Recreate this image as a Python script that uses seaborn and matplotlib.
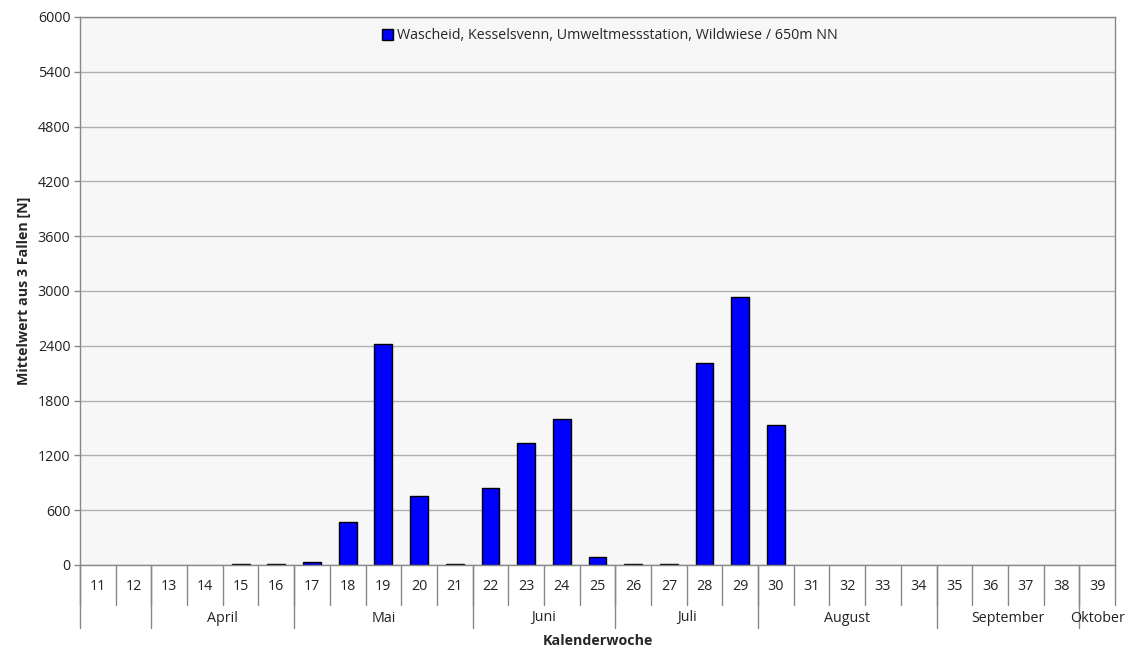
import matplotlib
matplotlib.use("Agg")
import matplotlib.pyplot as plt
import matplotlib.transforms as mtransforms
import seaborn as sns
import pandas as pd

weeks = [str(w) for w in range(11, 40)]
values = [0, 0, 0, 0, 10, 10, 35, 470, 2420, 755, 15, 843, 1336, 1598, 88,
          15, 8, 2212, 2934, 1533, 0, 0, 0, 0, 0, 0, 0, 0, 0]
months = ["", "April", "Mai", "Juni", "Juli", "August", "September", "Oktober"]
month_spans = [2, 4, 5, 4, 4, 5, 4, 1]  # number of weeks per month group
series_name = "Wascheid, Kesselsvenn, Umweltmessstation, Wildwiese / 650m NN"
yticks = list(range(0, 6001, 600))

sns.set_theme(style="white")
plt.rcParams['font.family'] = ['Open Sans', 'DejaVu Sans']
FS = 10.3

df = pd.DataFrame({"Kalenderwoche": weeks, "Wert": values})

fig = plt.figure(figsize=(11.48, 6.48), dpi=100)
ax = fig.add_axes([80/1148, 1-565/648, (1115-80)/1148, (565-17)/648])
ax.set_facecolor("#f7f7f7")

sns.barplot(data=df, x="Kalenderwoche", y="Wert", order=weeks, color="#0000ff",
            edgecolor="black", linewidth=1.0, width=0.5, saturation=1,
            label=series_name, ax=ax)
# no outline for empty bars
for p in ax.patches:
    if p.get_height() == 0:
        p.set_linewidth(0)

ax.set_ylim(0, 6000)
ax.set_xlim(-0.5, len(weeks) - 0.5)
ax.set_yticks(yticks)
ax.set_yticklabels([str(t) for t in yticks], fontsize=FS, color="#222222")
ax.yaxis.grid(True, color="#b0b0b0", linewidth=1)
ax.set_axisbelow(True)
ax.tick_params(axis="y", which="both", left=True, length=4, width=1, color="#888888", pad=3)
ax.set_xticks([])
ax.set_xlabel("")
ax.set_ylabel("Mittelwert aus 3 Fallen [N]", fontsize=FS, fontweight="bold", labelpad=5)

for s in ["top", "right", "left", "bottom"]:
    ax.spines[s].set_color("#888888")
    ax.spines[s].set_linewidth(1)

trans = mtransforms.blended_transform_factory(ax.transData, ax.transAxes)
px = 1.0 / (565 - 17)  # one pixel in axes units

# week labels and week separators
for i, w in enumerate(weeks):
    ax.text(i, -22 * px, w, transform=trans, ha="center", va="center",
            fontsize=FS, color="#222222")
for i in range(len(weeks) + 1):
    ax.plot([i - 0.5, i - 0.5], [0, -40 * px], transform=trans, color="#888888",
            linewidth=1, clip_on=False)

# month labels and separators
start = 0
for m, span in zip(months, month_spans):
    end = start + span
    ax.plot([start - 0.5, start - 0.5], [0, -63 * px], transform=trans,
            color="#888888", linewidth=1, clip_on=False)
    if m:
        ax.text((start + end - 1) / 2, -53 * px, m, transform=trans, ha="center",
                va="center", fontsize=FS, color="#222222")
    start = end

ax.text(0.5, -76 * px, "Kalenderwoche", transform=ax.transAxes, ha="center",
        va="center", fontsize=FS, fontweight="bold")

leg = ax.legend(loc="upper center", bbox_to_anchor=(0.512, 1.0), frameon=False,
                fontsize=FS, handlelength=0.75, handleheight=0.75,
                handletextpad=0.3, borderaxespad=0.4)
for h in leg.legend_handles:
    h.set_edgecolor("black")
    h.set_linewidth(1.0)

fig.savefig("out.png", dpi=100, facecolor="white")
